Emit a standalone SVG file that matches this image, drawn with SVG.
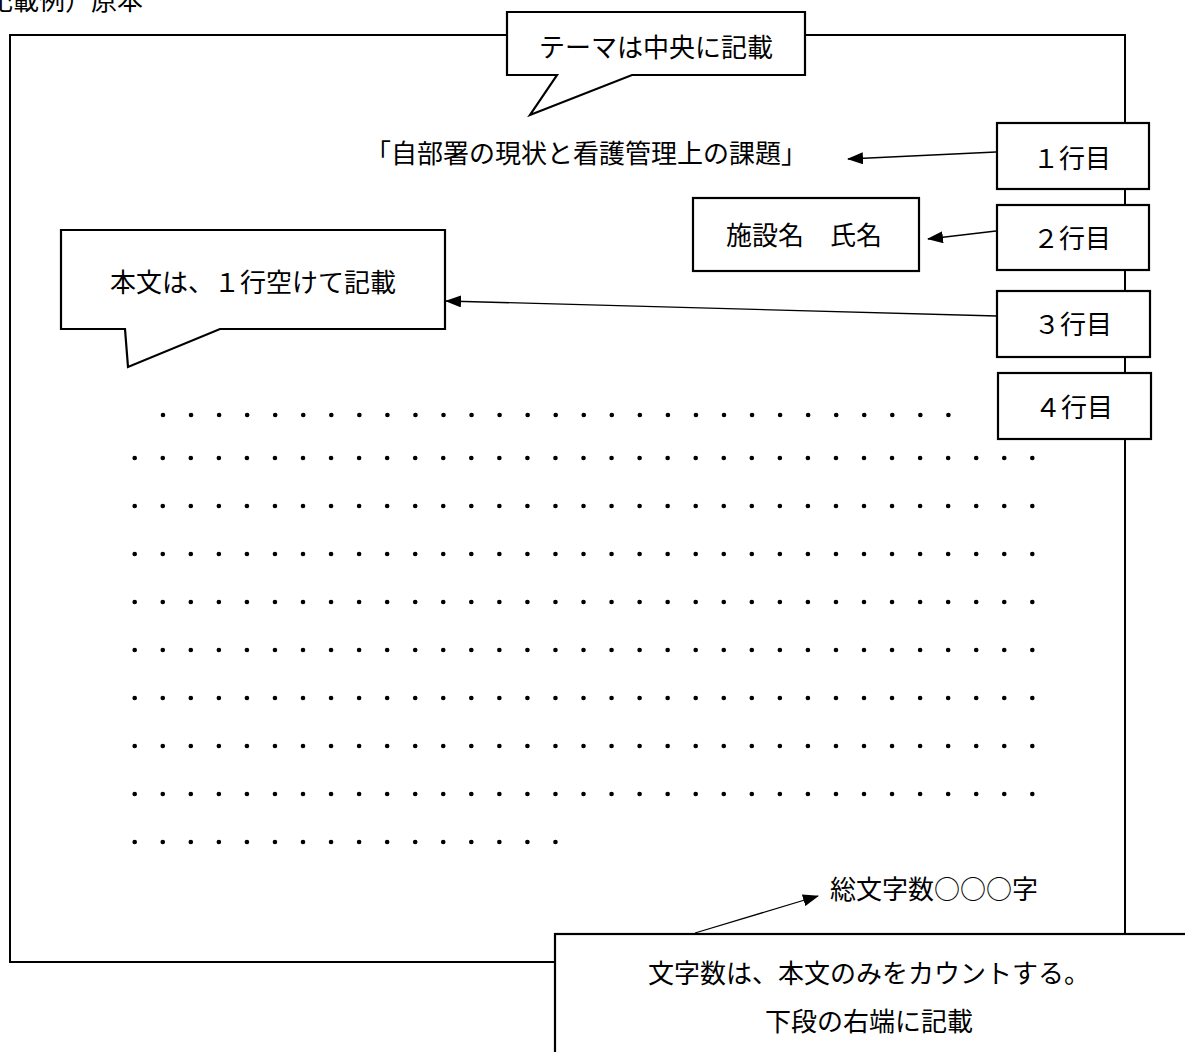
<svg xmlns="http://www.w3.org/2000/svg" width="1185" height="1052" viewBox="0 0 1185 1052">
<defs>
<style>
.t{font-family:"Noto Sans CJK JP","Noto Sans",sans-serif;font-size:26px;fill:#000;}
.m{text-anchor:middle;}
.box{fill:#fff;stroke:#000;stroke-width:2.2;}
.frame{fill:none;stroke:#000;stroke-width:2;}
.dots{stroke:#000;stroke-width:4.6;stroke-linecap:round;stroke-dasharray:0.01 28.04;fill:none;}
.conn{stroke:#000;stroke-width:1.3;fill:none;marker-end:url(#ah);}
</style>
<marker id="ah" markerUnits="userSpaceOnUse" markerWidth="16" markerHeight="12" refX="15" refY="6" orient="auto">
<path d="M0,0 L16,6 L0,12 Z" fill="#000"/>
</marker>
</defs>
<rect width="1185" height="1052" fill="#fff"/>
<text class="t" x="-13" y="10">記載例）原本</text>
<rect class="frame" x="10" y="35" width="1115" height="927"/>
<g id="body-dots">
<line class="dots" x1="163" y1="415" x2="949" y2="415"/>
<line class="dots" x1="134.7" y1="458" x2="1033" y2="458"/>
<line class="dots" x1="134.7" y1="506" x2="1033" y2="506"/>
<line class="dots" x1="134.7" y1="554" x2="1033" y2="554"/>
<line class="dots" x1="134.7" y1="602" x2="1033" y2="602"/>
<line class="dots" x1="134.7" y1="650" x2="1033" y2="650"/>
<line class="dots" x1="134.7" y1="698" x2="1033" y2="698"/>
<line class="dots" x1="134.7" y1="746" x2="1033" y2="746"/>
<line class="dots" x1="134.7" y1="794" x2="1033" y2="794"/>
<line class="dots" x1="134.7" y1="842" x2="557" y2="842"/>
</g>
<g id="theme-callout">
<path class="box" d="M507,12 H805 V75 H632 L530,115 L557,75 H507 Z"/>
<text class="t m" x="656" y="57">テーマは中央に記載</text>
</g>
<g id="title">
<text class="t m" x="586" y="163">「自部署の現状と看護管理上の課題」</text>
</g>
<g id="line1-box">
<rect class="box" x="997" y="123" width="152" height="66"/>
<text class="t m" x="1072" y="168">１行目</text>
</g>
<g id="name-box">
<rect class="box" x="693" y="198" width="226" height="73"/>
<text class="t m" x="804" y="245">施設名　氏名</text>
</g>
<g id="line2-box">
<rect class="box" x="997" y="205" width="152" height="65"/>
<text class="t m" x="1072" y="248">２行目</text>
</g>
<g id="body-callout">
<path class="box" d="M61,230 H445 V329 H220 L128,367 L125,329 H61 Z"/>
<text class="t m" x="253" y="292">本文は、１行空けて記載</text>
</g>
<g id="line3-box">
<rect class="box" x="997" y="291" width="153" height="66"/>
<text class="t m" x="1073" y="334">３行目</text>
</g>
<g id="line4-box">
<rect class="box" x="998" y="373" width="153" height="66"/>
<text class="t m" x="1074" y="417">４行目</text>
</g>
<g id="total-count">
<text class="t" x="830" y="899">総文字数○○○字</text>
</g>
<g id="count-note">
<rect class="box" x="555" y="934" width="700" height="200"/>
<text class="t m" x="869" y="983">文字数は、本文のみをカウントする。</text>
<text class="t m" x="869" y="1031">下段の右端に記載</text>
</g>
<g id="connectors">
<line class="conn" x1="996" y1="152" x2="848" y2="159"/>
<line class="conn" x1="996" y1="231" x2="928" y2="239"/>
<line class="conn" x1="997" y1="316" x2="446" y2="301"/>
<line class="conn" x1="695" y1="933" x2="818" y2="896"/>
</g>
</svg>
